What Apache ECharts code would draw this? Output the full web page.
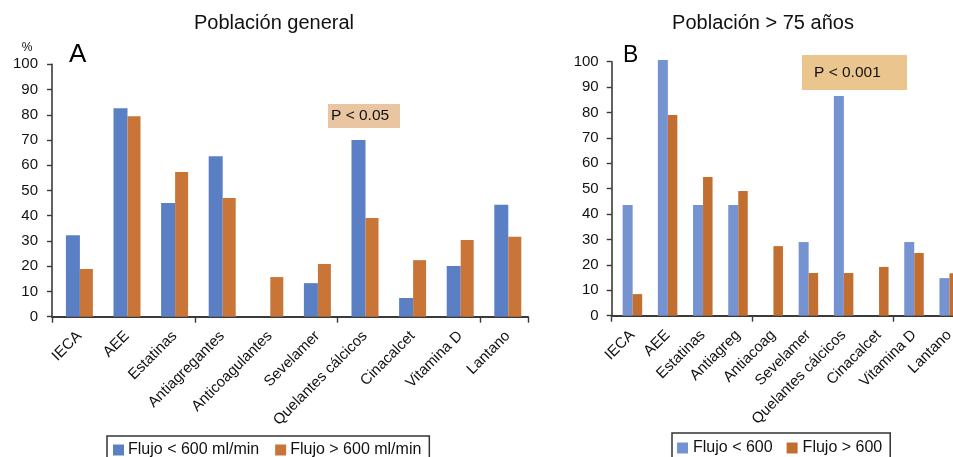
<!DOCTYPE html>
<html>
<head>
<meta charset="utf-8">
<script src="https://cdn.jsdelivr.net/npm/echarts@6/dist/echarts.min.js"></script>
<style>
html,body{margin:0;padding:0;background:#fff;overflow:hidden;width:953px;height:457px;}
#chart{width:975px;height:457px;}
</style>
</head>
<body>
<div id="chart"></div>
<script>
const categoriesA = ['IECA','AEE','Estatinas','Antiagregantes','Anticoagulantes','Sevelamer','Quelantes cálcicos','Cinacalcet','Vitamina D','Lantano'];
const categoriesB = ['IECA','AEE','Estatinas','Antiagreg','Antiacoag','Sevelamer','Quelantes cálcicos','Cinacalcet','Vitamina D','Lantano'];
const lowFlowA  = [32.3, 82.6, 45.0, 63.6, 0, 13.3, 70.0, 7.4, 20.1, 44.4];
const highFlowA = [18.9, 79.4, 57.3, 47.0, 15.7, 20.9, 39.1, 22.4, 30.4, 31.7];
const lowFlowB  = [43.6, 100.7, 43.6, 43.6, 0, 29.0, 86.5, 0, 29.0, 14.8];
const highFlowB = [8.5, 79.0, 54.6, 49.1, 27.4, 16.8, 16.8, 19.2, 24.7, 16.7];
const seriesNamesA = ['Flujo < 600 ml/min', 'Flujo > 600 ml/min'];
const seriesNamesB = ['Flujo < 600', 'Flujo > 600'];
const yMin = 0, yMax = 100, yInterval = 10;

const FONT = '"Liberation Sans", Arial, Helvetica, sans-serif';
const axisColor = '#3a3a3a';
const textColor = '#111';
const colA = ['#5b7fc5', '#ca7538'];
const colB = ['#7693d1', '#c26e30'];

const chart = echarts.init(document.getElementById('chart'));

function valueAxis(gridIndex, show, margin) {
  return {
    type: 'value', gridIndex, min: yMin, max: yMax, interval: yInterval,
    show,
    axisLine: {show: true, lineStyle: {color: axisColor, width: 1.6}},
    axisTick: {show: true, length: 5, lineStyle: {color: axisColor, width: 1.4}},
    axisLabel: {color: textColor, fontSize: 15, fontFamily: FONT, margin},
    splitLine: {show: false}
  };
}
// axis grid: line + ticks, no labels
function catAxisLine(gridIndex, cats) {
  return {
    type: 'category', gridIndex, data: cats,
    axisLine: {show: true, lineStyle: {color: axisColor, width: 1.8}},
    axisTick: {show: true, length: 6, alignWithLabel: false, lineStyle: {color: axisColor, width: 1.4}},
    axisLabel: {show: false}
  };
}
// bar grid: labels only
function catAxisLabels(gridIndex, cats) {
  return {
    type: 'category', gridIndex, data: cats,
    axisLine: {show: false},
    axisTick: {show: false},
    axisLabel: {color: textColor, fontSize: 15, fontFamily: FONT, rotate: 45, interval: 0, margin: 17}
  };
}

const option = {
  animation: false,
  backgroundColor: '#fff',
  grid: [
    {left: 52, top: 64.3, width: 476, height: 252.4},      // A axes
    {left: 55.6, top: 64.3, width: 476, height: 252.4},    // A bars
    {left: 611.7, top: 61.7, width: 352, height: 254},     // B axes
    {left: 614.8, top: 61.7, width: 352, height: 254}      // B bars
  ],
  xAxis: [
    catAxisLine(0, categoriesA),
    catAxisLabels(1, categoriesA),
    catAxisLine(2, categoriesB),
    catAxisLabels(3, categoriesB)
  ],
  yAxis: [
    valueAxis(0, true, 14),
    valueAxis(1, false, 14),
    valueAxis(2, true, 13),
    valueAxis(3, false, 13)
  ],
  legend: [
    {
      data: seriesNamesA, left: 107, top: 436, orient: 'horizontal',
      padding: [6, 8, 6, 6], itemWidth: 11, itemHeight: 11, itemGap: 16,
      borderColor: '#333', borderWidth: 1.5,
      textStyle: {color: textColor, fontSize: 16, fontFamily: FONT, padding: [0, 0, 0, -1]},
      icon: 'rect'
    },
    {
      data: seriesNamesB, left: 672, top: 433, orient: 'horizontal',
      padding: [7, 8, 7, 5], itemWidth: 11, itemHeight: 11, itemGap: 14,
      borderColor: '#333', borderWidth: 1.5,
      textStyle: {color: textColor, fontSize: 16, fontFamily: FONT},
      icon: 'rect'
    }
  ],
  series: [
    {name: seriesNamesA[0], type: 'bar', xAxisIndex: 1, yAxisIndex: 1, data: lowFlowA, barWidth: 14, barGap: '0%', itemStyle: {color: colA[0]}, clip: false},
    {name: seriesNamesA[1], type: 'bar', xAxisIndex: 1, yAxisIndex: 1, data: highFlowA, barWidth: 13, barGap: '0%', itemStyle: {color: colA[1]}, clip: false},
    {name: seriesNamesB[0], type: 'bar', xAxisIndex: 3, yAxisIndex: 3, data: lowFlowB, barWidth: 10, barGap: '0%', itemStyle: {color: colB[0]}, clip: false},
    {name: seriesNamesB[1], type: 'bar', xAxisIndex: 3, yAxisIndex: 3, data: highFlowB, barWidth: 9.5, barGap: '0%', itemStyle: {color: colB[1]}, clip: false}
  ],
  graphic: [
    {type: 'text', x: 274, y: 23, style: {text: 'Población general', fill: textColor, font: '20px ' + FONT, textAlign: 'center', textVerticalAlign: 'middle'}},
    {type: 'text', x: 763, y: 23, style: {text: 'Población > 75 años', fill: textColor, font: '20px ' + FONT, textAlign: 'center', textVerticalAlign: 'middle'}},
    {type: 'text', x: 69, y: 55, style: {text: 'A', fill: '#000', font: '26px ' + FONT, textAlign: 'left', textVerticalAlign: 'middle'}},
    {type: 'text', x: 623, y: 56, style: {text: 'B', fill: '#000', font: '23px ' + FONT, textAlign: 'left', textVerticalAlign: 'middle'}},
    {type: 'text', x: 27, y: 48, style: {text: '%', fill: textColor, font: '12px ' + FONT, textAlign: 'center', textVerticalAlign: 'middle'}},
    {type: 'rect', shape: {x: 328, y: 104, width: 72, height: 24}, style: {fill: '#e9c5a2'}},
    {type: 'text', x: 331, y: 116, style: {text: 'P < 0.05', fill: textColor, font: '15.5px ' + FONT, textAlign: 'left', textVerticalAlign: 'middle'}},
    {type: 'rect', shape: {x: 802, y: 55, width: 105, height: 35}, style: {fill: '#eac68e'}},
    {type: 'text', x: 814, y: 73, style: {text: 'P < 0.001', fill: textColor, font: '15.5px ' + FONT, textAlign: 'left', textVerticalAlign: 'middle'}}
  ]
};
chart.setOption(option);
</script>
</body>
</html>
